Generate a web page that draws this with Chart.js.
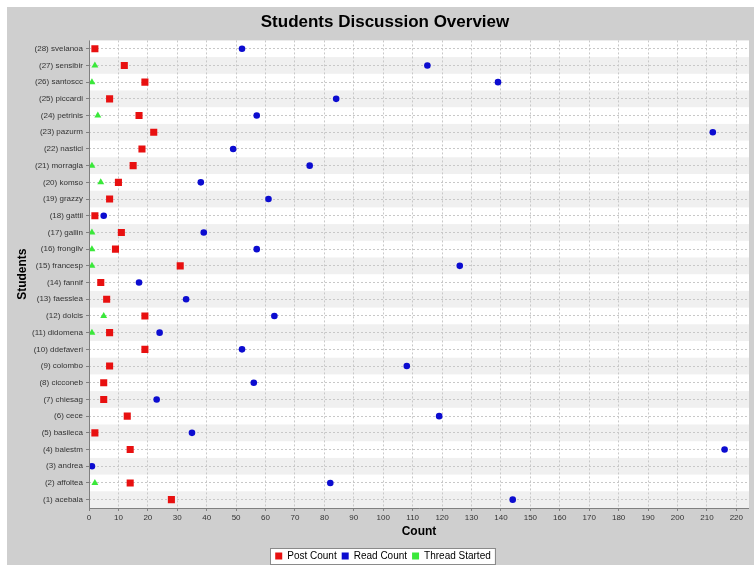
<!DOCTYPE html>
<html>
<head>
<meta charset="utf-8">
<script src="https://cdn.jsdelivr.net/npm/chart.js@4.4.0/dist/chart.umd.min.js"></script>
<style>
  html, body { margin: 0; padding: 0; background: #ffffff; }
  #wrap { position: absolute; left: 7px; top: 7px; width: 747px; height: 558px; background: #cfcfcf; }
  canvas { display: block; }
</style>
</head>
<body>
<div id="wrap"><canvas id="c" width="747" height="558"></canvas></div>
<script>
// Categories from (1) to (28); drawn bottom to top
const students = ["(1) acebala","(2) affoltea","(3) andrea","(4) balestm","(5) basileca","(6) cece","(7) chiesag","(8) cicconeb","(9) colombo","(10) ddefaveri","(11) didomena","(12) dolcis","(13) faesslea","(14) fannif","(15) francesp","(16) frongilv","(17) gallin","(18) gattil","(19) grazzy","(20) komso","(21) morragla","(22) nastici","(23) pazurm","(24) petrinis","(25) piccardi","(26) santoscc","(27) sensibir","(28) svelanoa"];
const postCount   = [28, 14, null, 14, 2, 13, 5, 5, 7, 19, 7, 19, 6, 4, 31, 9, 11, 2, 7, 10, 15, 18, 22, 17, 7, 19, 12, 2];
const readCount   = [144, 82, 1, 216, 35, 119, 23, 56, 108, 52, 24, 63, 33, 17, 126, 57, 39, 5, 61, 38, 75, 49, 212, 57, 84, 139, 115, 52];
const threadStarted = [null, 2, null, null, null, null, null, null, null, null, 1, 5, null, null, 1, 1, 1, null, null, 4, 1, null, null, 3, null, 1, 2, null];
const xTicks = [0,10,20,30,40,50,60,70,80,90,100,110,120,130,140,150,160,170,180,190,200,210,220];

function toPoints(vals) {
  const pts = [];
  vals.forEach((v, i) => { if (v !== null) pts.push({ x: v, y: students[i] }); });
  return pts;
}

const FONT = '"Liberation Sans", Arial, sans-serif';

const bandPlugin = {
  id: 'bands',
  afterLayout(chart) {
    // nudge title and legend to match the reference placement
    const t = chart.titleBlock;
    if (t) { t.left += 7; t.right += 7; t.top += 1; t.bottom += 1; }
    const lg = chart.legend;
    if (lg) { lg.left += 5; lg.right += 5; lg.top += 6; lg.bottom += 6; }
  },
  beforeDraw(chart) {
    const { ctx, chartArea: a, scales } = chart;
    ctx.save();
    ctx.fillStyle = '#ffffff';
    ctx.fillRect(a.left, a.top, a.right - a.left, a.bottom - a.top);
    const y = scales.y;
    const half = Math.abs(y.getPixelForValue(1) - y.getPixelForValue(0)) / 2;
    ctx.fillStyle = '#f0f0f0';
    students.forEach((s, i) => {
      if (i % 2 === 0) {
        const c = y.getPixelForValue(i);
        ctx.fillRect(a.left, c - half, a.right - a.left, half * 2);
      }
    });
    ctx.restore();
  },
  afterDraw(chart) {
    const { ctx, chartArea: a } = chart;
    ctx.save();
    ctx.strokeStyle = '#808080';
    ctx.lineWidth = 1;
    ctx.beginPath();
    ctx.moveTo(a.left + 0.5, a.top);
    ctx.lineTo(a.left + 0.5, a.bottom + 0.5);
    ctx.lineTo(a.right, a.bottom + 0.5);
    ctx.stroke();
    const lg = chart.legend;
    if (lg && lg.legendHitBoxes && lg.legendHitBoxes.length) {
      let l = Infinity, r = -Infinity, t = Infinity, b = -Infinity;
      lg.legendHitBoxes.forEach(h => {
        l = Math.min(l, h.left); r = Math.max(r, h.left + h.width);
        t = Math.min(t, h.top); b = Math.max(b, h.top + h.height);
      });
      ctx.fillStyle = '#ffffff';
      ctx.strokeStyle = '#8a8a8a';
      ctx.globalCompositeOperation = 'destination-over';
      ctx.fillRect(l - 5, t - 3, r - l + 9, b - t + 6);
      ctx.globalCompositeOperation = 'source-over';
      ctx.strokeRect(Math.round(l - 5) + 0.5, Math.round(t - 3) + 0.5, Math.round(r - l + 9), Math.round(b - t + 6));
    }
    ctx.restore();
  }
};

new Chart(document.getElementById('c'), {
  type: 'scatter',
  data: {
    labels: students,
    datasets: [
      { label: 'Post Count', data: toPoints(postCount), pointStyle: 'rect', pointRadius: 5, backgroundColor: '#e81010', borderColor: '#e81010', borderWidth: 0 },
      { label: 'Read Count', data: toPoints(readCount), pointStyle: 'circle', pointRadius: 3.3, backgroundColor: '#0c0cd0', borderColor: '#0c0cd0', borderWidth: 0 },
      { label: 'Thread Started', data: toPoints(threadStarted), pointStyle: 'triangle', pointRadius: 4, backgroundColor: '#3ae83a', borderColor: '#3ae83a', borderWidth: 0 }
    ]
  },
  options: {
    responsive: false,
    animation: false,
    layout: { padding: { left: 0, right: 5, top: 0, bottom: 0 } },
    plugins: {
      tooltip: { enabled: false },
      title: {
        display: true,
        text: 'Students Discussion Overview',
        color: '#000000',
        font: { family: FONT, size: 17, weight: 'bold' },
        padding: { top: 4, bottom: 9 }
      },
      legend: {
        position: 'bottom',
        labels: {
          font: { family: FONT, size: 10 },
          color: '#000000',
          boxWidth: 7,
          boxHeight: 7,
          padding: 5,
          generateLabels(chart) {
            return chart.data.datasets.map((d, i) => ({
              text: d.label, fillStyle: d.backgroundColor, strokeStyle: d.backgroundColor,
              lineWidth: 0, hidden: false, datasetIndex: i, fontColor: '#000000'
            }));
          }
        }
      }
    },
    scales: {
      x: {
        type: 'linear',
        min: 0,
        max: 224.3,
        afterBuildTicks(scale) { scale.ticks = xTicks.map(v => ({ value: v })); },
        afterFit(scale) { scale.height = 32; },
        grid: { color: '#c8c8c8', tickLength: 3, drawTicks: true, tickColor: '#808080' },
        border: { display: false, dash: [2, 2] },
        ticks: { font: { family: FONT, size: 8 }, color: '#333333', padding: 2, maxRotation: 0, autoSkip: false },
        title: { display: true, text: 'Count', color: '#000000', font: { family: FONT, size: 12, weight: 'bold' }, padding: { top: 0, bottom: 1 } }
      },
      y: {
        type: 'category',
        reverse: true,
        offset: true,
        afterFit(scale) { scale.width = 82; },
        grid: { color: '#c8c8c8', tickLength: 3, tickColor: '#808080', offset: false },
        border: { display: false, dash: [2, 2] },
        ticks: { font: { family: FONT, size: 8 }, color: '#333333', padding: 3, autoSkip: false },
        title: { display: true, text: 'Students', color: '#000000', font: { family: FONT, size: 12, weight: 'bold' }, padding: { top: 8, bottom: 0 } }
      }
    }
  },
  plugins: [bandPlugin]
});
</script>
</body>
</html>
